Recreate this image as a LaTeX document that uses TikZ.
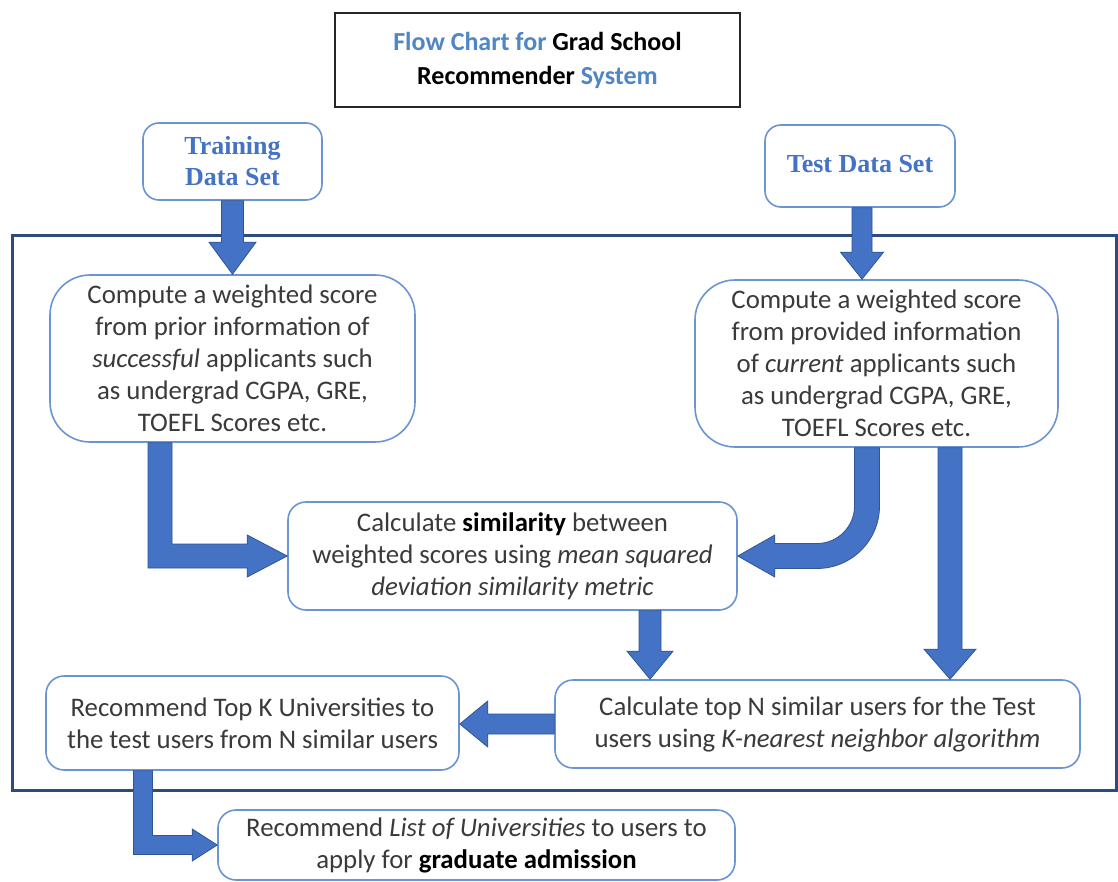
\documentclass[tikz,border=0pt]{standalone}
\usepackage{fontspec}
\setmainfont{Carlito}
\newfontfamily\tnr{Liberation Serif}
\usetikzlibrary{calc}
\definecolor{txt}{HTML}{3A3A3A}
\definecolor{ttlblue}{HTML}{4F86C6}
\definecolor{dsblue}{HTML}{4472C4}
\definecolor{boxline}{HTML}{6A95D2}
\definecolor{arrfill}{HTML}{4472C4}
\definecolor{arrline}{HTML}{2F5597}
\definecolor{framecol}{HTML}{2E4B7D}
\newcommand{\blkdown}[5]{\filldraw[blkarrow] let \p1=(#1), \p2=(#2) in
  (\x1-#3,\y1) -- (\x1-#3,\y2+#5) -- (\x1-#4,\y2+#5) -- (\x1,\y2) -- (\x1+#4,\y2+#5) -- (\x1+#3,\y2+#5) -- (\x1+#3,\y1) -- cycle;}
\newcommand{\blkleft}[5]{\filldraw[blkarrow] let \p1=(#1), \p2=(#2) in
  (\x1,\y1+#3) -- (\x2+#5,\y1+#3) -- (\x2+#5,\y1+#4) -- (\x2,\y1) -- (\x2+#5,\y1-#4) -- (\x2+#5,\y1-#3) -- (\x1,\y1-#3) -- cycle;}
\newcommand{\blkL}[5]{\filldraw[blkarrow] let \p1=(#1), \p2=(#2) in
  (\x1-#3,\y1) -- (\x1-#3,\y2-#3) -- (\x2-#5,\y2-#3) -- (\x2-#5,\y2-#4) -- (\x2,\y2) -- (\x2-#5,\y2+#4) -- (\x2-#5,\y2+#3) -- (\x1+#3,\y2+#3) -- (\x1+#3,\y1) -- cycle;}
\newcommand{\blkcurve}[2]{\filldraw[blkarrow] let \p1=(#1), \p2=(#2) in
  (\x1+12.5pt,\y1) -- (\x1+12.5pt,\y2+50pt) arc[start angle=0,end angle=-90,radius=62.5pt]
  -- (\x2+37pt,\y2-12.5pt) -- (\x2+37pt,\y2-21pt) -- (\x2,\y2) -- (\x2+37pt,\y2+21pt) -- (\x2+37pt,\y2+12.5pt)
  -- (\x1-50pt,\y2+12.5pt) arc[start angle=-90,end angle=0,radius=37.5pt] -- (\x1-12.5pt,\y1) -- cycle;}
\begin{document}
\begin{tikzpicture}[x=1pt,y=-1pt,
  box/.style={draw=boxline, line width=1.6pt, fill=white, rounded corners=18pt, align=center,
    inner sep=0pt, text=txt, font=\fontsize{26.8}{32}\selectfont},
  dsbox/.style={box, rounded corners=16pt, text=dsblue, font=\tnr\bfseries\fontsize{26}{31}\selectfont},
  titlebox/.style={draw=black!85, line width=2.4pt, fill=white, align=center, inner sep=0pt,
    font=\bfseries\fontsize{26}{34}\selectfont},
  blkarrow/.style={fill=arrfill, draw=arrline, line width=0.8pt, line join=miter}]
\useasboundingbox (0,0) rectangle (1118,882);
\fill[white] (0,0) rectangle (1118,882);
% container
\node[draw=framecol, line width=3pt, minimum width=1104pt, minimum height=554pt, inner sep=0pt] (frame) at (564,513) {};
% title
\node[titlebox, minimum width=405pt, minimum height=94pt] (title) at (537.5,60)
  {\raisebox{2pt}{{\color{ttlblue}Flow Chart for} Grad School}\\\raisebox{2pt}{Recommender {\color{ttlblue}System}}};
% data sets
\node[dsbox, minimum width=179pt, minimum height=77pt] (train) at (232.5,161.5) {\raisebox{2pt}{Training}\\\raisebox{2pt}{Data Set}};
\node[dsbox, minimum width=190pt, minimum height=82pt] (test) at (860,166) {\raisebox{4pt}{Test Data Set}};
% compute boxes
\node[box, rounded corners=40pt, minimum width=365pt, minimum height=167pt] (lc) at (232.5,358.5)
  {Compute a weighted score\\from prior information of\\\textit{successful} applicants such\\as undergrad CGPA, GRE,\\TOEFL Scores etc.};
\node[box, rounded corners=40pt, minimum width=363pt, minimum height=167pt] (rc) at (876.5,363.5)
  {Compute a weighted score\\from provided information\\of \textit{current} applicants such\\as undergrad CGPA, GRE,\\TOEFL Scores etc.};
% similarity
\node[box, minimum width=449pt, minimum height=108pt] (sim) at (512.5,556)
  {Calculate \textbf{\color{black}similarity} between\\weighted scores using \textit{mean squared}\\\textit{deviation similarity metric}};
% top N / top K
\node[box, minimum width=525pt, minimum height=88pt] (topn) at (817.5,724)
  {Calculate top N similar users for the Test\\users using \textit{K-nearest neighbor algorithm}};
\node[box, minimum width=413pt, minimum height=94pt] (topk) at (252.5,723)
  {Recommend Top K Universities to\\the test users from N similar users};
% final
\node[box, minimum width=517pt, minimum height=70pt] (final) at (476.5,845)
  {Recommend \textit{List of Universities} to users to\\apply for \textbf{\color{black}graduate admission}};
% arrows
\blkdown{train.south}{lc.north}{11pt}{23.5pt}{32pt}
\blkdown{$(test.south)+(2,0)$}{rc.north}{10pt}{21.5pt}{27pt}
\blkL{$(lc.south)+(-72.5,0)$}{sim.west}{12pt}{21pt}{40pt}
\blkcurve{$(rc.south)+(-9.5,0)$}{sim.east}
\blkdown{$(rc.south)+(73.5,0)$}{topn.north}{12pt}{26pt}{30pt}
\blkdown{$(sim.south)+(137.5,0)$}{topn.north}{11pt}{23pt}{28pt}
\blkleft{topn.west}{topk.east}{10pt}{23pt}{28pt}
\blkL{$(topk.south)+(-109.5,0)$}{final.west}{9.5pt}{16pt}{25pt}
\end{tikzpicture}
\end{document}
